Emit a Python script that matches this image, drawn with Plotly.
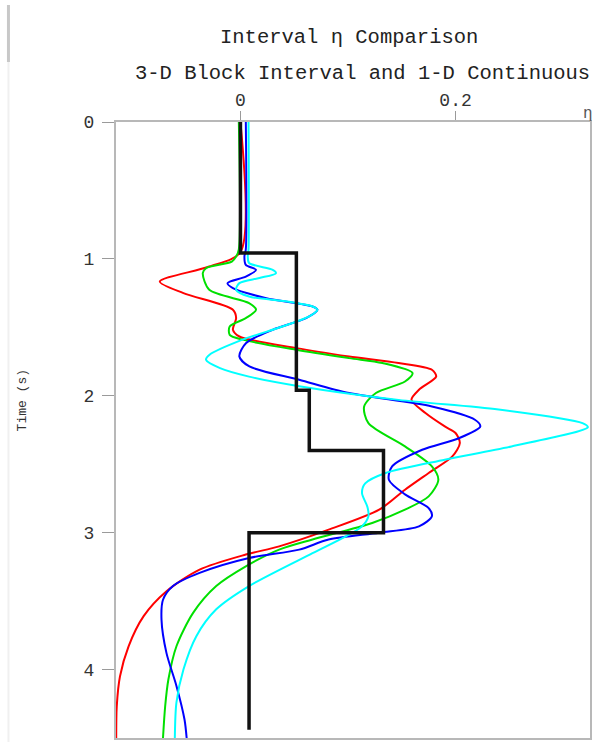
import plotly.graph_objects as go

# ---- data ----
block_t = [0.0, 0.957, 0.957, 1.96, 1.96, 2.40, 2.40, 3.00, 3.00, 4.44]
block_eta = [0.0, 0.0, 0.052, 0.052, 0.064, 0.064, 0.133, 0.133, 0.008, 0.008]

red_t = [0.0, 0.95, 1.056, 1.166, 1.25, 1.372, 1.433, 1.518, 1.567, 1.652, 1.713, 1.761, 1.81, 1.859,
         1.956, 2.029, 2.126, 2.224, 2.272, 2.345, 2.443, 2.564, 2.686, 2.832, 2.978, 3.10, 3.16, 3.27,
         3.43, 3.61, 3.83, 4.05, 4.27, 4.5]
red_eta = [0.0, 0.0, -0.029, -0.075, -0.053, -0.007, -0.004, -0.007, -0.001, 0.052, 0.101, 0.147, 0.178, 0.182,
           0.166, 0.159, 0.172, 0.190, 0.200, 0.204, 0.197, 0.175, 0.153, 0.129, 0.082, 0.036, 0.005, -0.038,
           -0.069, -0.090, -0.104, -0.112, -0.115, -0.1155]

green_t = [0.0, 0.93, 0.983, 1.02, 1.068, 1.104, 1.226, 1.323, 1.372, 1.433, 1.494, 1.555, 1.59, 1.664,
           1.725, 1.761, 1.834, 1.896, 1.98, 2.078, 2.20, 2.37, 2.516, 2.613, 2.735, 2.832, 2.929, 3.05,
           3.124, 3.246, 3.39, 3.586, 3.83, 4.073, 4.27, 4.5]
green_eta = [-0.0015, -0.0015, -0.004, -0.008, -0.032, -0.035, -0.029, 0.008, 0.0145, 0.005, -0.010, -0.010,
             0.002, 0.052, 0.101, 0.132, 0.160, 0.153, 0.126, 0.115, 0.119, 0.153, 0.178, 0.184, 0.175, 0.153,
             0.1225, 0.067, 0.036, 0.005, -0.0225, -0.044, -0.0595, -0.067, -0.070, -0.072]

blue_t = [0.0, 0.93, 0.983, 1.044, 1.08, 1.129, 1.177, 1.214, 1.287, 1.348, 1.372, 1.433, 1.518, 1.615,
          1.713, 1.786, 1.883, 1.98, 2.078, 2.175, 2.224, 2.31, 2.394, 2.516, 2.613, 2.72, 2.82, 2.88,
          2.954, 3.00, 3.05, 3.124, 3.185, 3.294, 3.39, 3.49, 3.635, 3.878, 4.12, 4.365, 4.5]
blue_eta = [0.005, 0.005, 0.0037, 0.005, 0.0145, 0.005, -0.012, -0.007, 0.024, 0.067, 0.0716, 0.061, 0.030,
            0.0053, -0.001, 0.0083, 0.0546, 0.101, 0.178, 0.218, 0.223, 0.203, 0.169, 0.141, 0.138, 0.153,
            0.175, 0.178, 0.166, 0.129, 0.082, 0.0546, 0.008, -0.038, -0.0627, -0.072, -0.0734, -0.0688,
            -0.0595, -0.052, -0.050]

cyan_t = [0.0, 0.93, 0.983, 1.03, 1.08, 1.104, 1.14, 1.177, 1.226, 1.275, 1.31, 1.348, 1.372, 1.42, 1.494,
          1.59, 1.70, 1.737, 1.798, 1.86, 1.93, 2.03, 2.10, 2.20, 2.23, 2.37, 2.467, 2.564, 2.64, 2.71,
          2.81, 2.88, 2.954, 3.027, 3.15, 3.39, 3.56, 3.756, 4.0, 4.24, 4.5]
cyan_eta = [0.0075, 0.0075, 0.0068, 0.008, 0.030, 0.033, 0.0176, -0.001, -0.004, 0.008, 0.042, 0.067,
            0.0716, 0.064, 0.039, 0.002, -0.0287, -0.032, -0.019, 0.008, 0.0546, 0.147, 0.240, 0.318, 0.323,
            0.252, 0.190, 0.135, 0.116, 0.113, 0.118, 0.119, 0.113, 0.098, 0.067, 0.008, -0.0225, -0.041,
            -0.053, -0.0595, -0.061]

x_tickvals = [0, 0.2]
x_ticktext = ["0", "0.2"]
y_tickvals = [0, 1, 2, 3, 4]
y_ticktext = ["0", "1", "2", "3", "4"]

FONT = "Liberation Mono"
W, H = 593, 742
ML, MR, MT, MB = 116, 1, 122, 4
PW, PH = W - ML - MR, H - MT - MB


def px(xp):
    return (xp - ML) / PW


def py(yp):
    return (H - MB - yp) / PH


fig = go.Figure()
for t, e, c in [(red_t, red_eta, "#ff0000"), (green_t, green_eta, "#00e000"),
                (blue_t, blue_eta, "#0000ff"), (cyan_t, cyan_eta, "#00ffff")]:
    fig.add_trace(go.Scatter(x=e, y=t, mode="lines", line=dict(color=c, width=2, shape="spline", smoothing=0.8),
                             showlegend=False, hoverinfo="skip"))
fig.add_trace(go.Scatter(x=block_eta, y=block_t, mode="lines", line=dict(color="#111111", width=3.5),
                         showlegend=False, hoverinfo="skip"))

axis_common = dict(showgrid=False, zeroline=False, showline=True, linecolor="#b8b8b8", linewidth=2,
                   mirror=True, ticks="outside", tickcolor="#9a9a9a", tickwidth=1,
                   tickfont=dict(family=FONT, size=18, color="#333333"))

fig.update_layout(
    width=W, height=H, margin=dict(l=ML, r=MR, t=MT, b=MB),
    paper_bgcolor="white", plot_bgcolor="white",
    xaxis=dict(range=[-0.1157, 0.325], side="top", tickmode="array", tickvals=x_tickvals,
               ticktext=x_ticktext, ticklen=9, ticklabelstandoff=-2, **axis_common),
    yaxis=dict(range=[4.5, 0], tickmode="array", tickvals=y_tickvals, ticktext=y_ticktext,
               ticklen=12, ticklabelstandoff=4, **axis_common),
    annotations=[
        dict(text="Interval η Comparison", x=px(350), y=py(38), xref="paper", yref="paper",
             xanchor="center", yanchor="middle", showarrow=False,
             font=dict(family=FONT, size=20.5, color="#222222")),
        dict(text="3-D Block Interval and 1-D Continuous", x=px(133), y=py(74), xref="paper", yref="paper",
             xanchor="left", yanchor="middle", showarrow=False,
             font=dict(family=FONT, size=20.5, color="#222222")),
        dict(text="Time (s)", x=px(22), y=py(400), xref="paper", yref="paper", textangle=-90,
             xanchor="center", yanchor="middle", showarrow=False,
             font=dict(family=FONT, size=13, color="#333333")),
        dict(text="η", x=px(590), y=py(114), xref="paper", yref="paper",
             xanchor="center", yanchor="middle", showarrow=False,
             font=dict(family=FONT, size=16, color="#555555")),
    ],
    shapes=[
        dict(type="line", xref="paper", yref="paper", x0=px(8), x1=px(8), y0=py(5), y1=py(62),
             line=dict(color="#c8c8c8", width=3)),
        dict(type="line", xref="paper", yref="paper", x0=px(8), x1=px(8), y0=py(62), y1=py(742),
             line=dict(color="#f0f0f0", width=2)),
    ],
)

fig.write_html("out.html")
